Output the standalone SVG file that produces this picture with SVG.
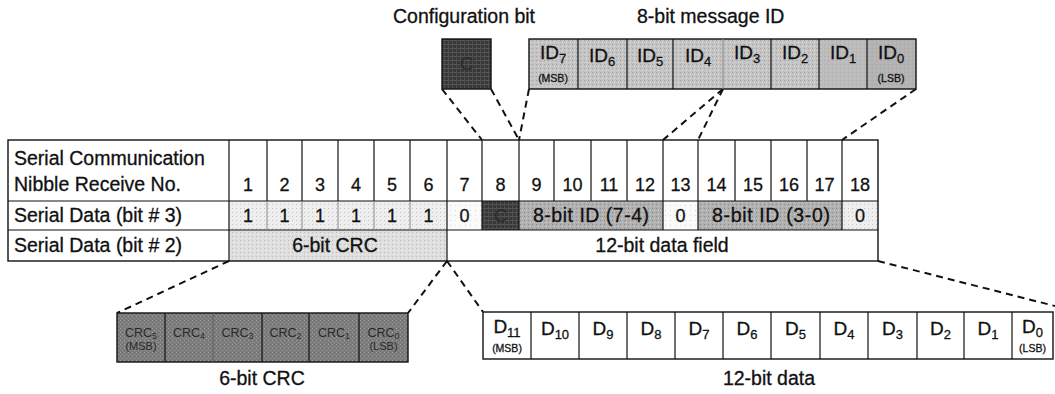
<svg xmlns="http://www.w3.org/2000/svg" width="1055" height="394" viewBox="0 0 1055 394">
<style>
text{font-family:"Liberation Sans",Arial,Helvetica,sans-serif;fill:#111;stroke:#111;stroke-width:0.3}
.big{font-size:19.5px}
.num{font-size:18px;text-anchor:middle}
.mid{text-anchor:middle}
.id{font-size:19px;text-anchor:middle}
.sub{font-size:13px}
.tiny{font-size:10.5px;text-anchor:middle}
.crc{font-size:12.5px;text-anchor:middle;fill:#2a2a2a;stroke:none}
.crcs{font-size:9px}
.dash{stroke:#111;stroke-width:2;stroke-dasharray:7 5;fill:none}
.bd{stroke:#111;stroke-width:1.4;fill:none}
.thin{stroke:#111;stroke-width:1.2}
.faint{stroke:#8a8a8a;stroke-width:1}
.hid{fill:#2b2b2b;stroke:none}
</style>
<defs>
<pattern id="pDark" width="4" height="4" patternUnits="userSpaceOnUse"><rect width="4" height="4" fill="#383838"/><rect width="4" height="1" fill="#555"/><rect width="1" height="4" fill="#4e4e4e"/></pattern>
<pattern id="pCrc" width="4" height="4" patternUnits="userSpaceOnUse"><rect width="4" height="4" fill="#7c7c7c"/><rect width="1" height="1" fill="#a0a0a0"/><rect x="2" y="2" width="1" height="1" fill="#959595"/><rect x="2" y="0" width="1" height="1" fill="#6a6a6a"/></pattern>
<pattern id="pMid" width="4" height="4" patternUnits="userSpaceOnUse"><rect width="4" height="4" fill="#b0b0b0"/><rect width="1" height="1" fill="#8c8c8c"/><rect x="2" y="2" width="1" height="1" fill="#d2d2d2"/></pattern>
<pattern id="pId" width="4" height="4" patternUnits="userSpaceOnUse"><rect width="4" height="4" fill="#c4c4c4"/><rect width="1" height="1" fill="#a2a2a2"/><rect x="2" y="2" width="1" height="1" fill="#dedede"/></pattern>
<pattern id="pLight" width="4" height="4" patternUnits="userSpaceOnUse"><rect width="4" height="4" fill="#eeeeee"/><rect width="1" height="1" fill="#c6c6c6"/></pattern>
<pattern id="pLight2" width="4" height="4" patternUnits="userSpaceOnUse"><rect width="4" height="4" fill="#dedede"/><rect width="1" height="1" fill="#bcbcbc"/><rect x="2" y="2" width="1" height="1" fill="#f2f2f2"/></pattern>
<pattern id="pFaint" width="5" height="5" patternUnits="userSpaceOnUse"><rect width="5" height="5" fill="#fafafa"/><rect width="1" height="1" fill="#dadada"/></pattern>
</defs>
<rect width="1055" height="394" fill="#fff"/>

<g id="connectors">
<line class="dash" x1="442" y1="89" x2="482" y2="140"/>
<line class="dash" x1="491" y1="89" x2="519" y2="140"/>
<line class="dash" x1="529" y1="89" x2="519" y2="140"/>
<line class="dash" x1="723" y1="89" x2="663" y2="140"/>
<line class="dash" x1="723" y1="89" x2="698" y2="140"/>
<line class="dash" x1="916" y1="89" x2="842" y2="140"/>
<line class="dash" x1="229" y1="261" x2="117" y2="313"/>
<line class="dash" x1="447" y1="261" x2="408" y2="313"/>
<line class="dash" x1="447" y1="261" x2="483" y2="312"/>
<line class="dash" x1="878" y1="261" x2="1055" y2="306"/>
</g>

<g id="config-bit">
<text class="big" x="393" y="23">Configuration bit</text>
<rect x="442" y="39" width="49" height="50" fill="url(#pDark)" stroke="#111" stroke-width="1.4"/>
<text class="id hid" x="466.5" y="70">C</text>
</g>

<g id="message-id">
<text class="big" x="637" y="23">8-bit message ID</text>
<rect x="529" y="39" width="387" height="50" fill="url(#pId)"/>
<rect x="819" y="39" width="48" height="50" fill="#b2b2b2" opacity="0.5"/>
<rect x="867" y="39" width="49" height="50" fill="#a8a8a8" opacity="0.6"/>
<rect x="529" y="39" width="387" height="50" class="bd"/>
<line class="thin" x1="578" y1="39" x2="578" y2="89"/>
<line class="thin" x1="627" y1="39" x2="627" y2="89"/>
<line class="thin" x1="673" y1="39" x2="673" y2="89"/>
<line class="faint" x1="723" y1="39" x2="723" y2="89"/>
<line class="thin" x1="771" y1="39" x2="771" y2="89"/>
<line class="thin" x1="819" y1="39" x2="819" y2="89"/>
<line class="thin" x1="867" y1="39" x2="867" y2="89"/>
<text class="id" x="553" y="59">ID<tspan class="sub" dy="4">7</tspan></text>
<text class="tiny" x="553" y="82">(MSB)</text>
<text class="id" x="602" y="62">ID<tspan class="sub" dy="4">6</tspan></text>
<text class="id" x="650" y="62">ID<tspan class="sub" dy="4">5</tspan></text>
<text class="id" x="698" y="62">ID<tspan class="sub" dy="4">4</tspan></text>
<text class="id" x="747" y="59">ID<tspan class="sub" dy="4">3</tspan></text>
<text class="id" x="795" y="59">ID<tspan class="sub" dy="4">2</tspan></text>
<text class="id" x="843" y="59">ID<tspan class="sub" dy="4">1</tspan></text>
<text class="id" x="891" y="59">ID<tspan class="sub" dy="4">0</tspan></text>
<text class="tiny" x="891" y="82">(LSB)</text>
</g>

<g id="table">
<rect x="229" y="201" width="218" height="29" fill="url(#pLight)"/>
<rect x="447" y="201" width="35" height="29" fill="url(#pFaint)"/>
<rect x="482" y="201" width="37" height="29" fill="url(#pDark)"/>
<rect x="519" y="201" width="144" height="29" fill="url(#pMid)"/>
<rect x="663" y="201" width="35" height="29" fill="url(#pFaint)"/>
<rect x="698" y="201" width="144" height="29" fill="url(#pMid)"/>
<rect x="842" y="201" width="36" height="29" fill="url(#pLight)"/>
<rect x="229" y="230" width="218" height="31" fill="url(#pLight2)"/>
<rect x="8" y="140" width="870" height="121" class="bd"/>
<line class="thin" x1="8" y1="201" x2="878" y2="201"/>
<line class="thin" x1="8" y1="230" x2="878" y2="230"/>
<line class="thin" x1="229" y1="140" x2="229" y2="261"/>
<line class="thin" x1="447" y1="140" x2="447" y2="261"/>
<g class="thin">
<line x1="267" y1="140" x2="267" y2="201"/>
<line x1="302" y1="140" x2="302" y2="201"/>
<line x1="338" y1="140" x2="338" y2="201"/>
<line x1="374" y1="140" x2="374" y2="201"/>
<line x1="410" y1="140" x2="410" y2="201"/>
<line x1="482" y1="140" x2="482" y2="230"/>
<line x1="519" y1="140" x2="519" y2="230"/>
<line x1="554" y1="140" x2="554" y2="201"/>
<line x1="591" y1="140" x2="591" y2="201"/>
<line x1="627" y1="140" x2="627" y2="201"/>
<line x1="663" y1="140" x2="663" y2="230"/>
<line x1="698" y1="140" x2="698" y2="230"/>
<line x1="735" y1="140" x2="735" y2="201"/>
<line x1="771" y1="140" x2="771" y2="201"/>
<line x1="807" y1="140" x2="807" y2="201"/>
<line x1="842" y1="140" x2="842" y2="230"/>
</g>
<g class="faint">
<line x1="267" y1="201" x2="267" y2="230"/>
<line x1="302" y1="201" x2="302" y2="230"/>
<line x1="338" y1="201" x2="338" y2="230"/>
<line x1="374" y1="201" x2="374" y2="230"/>
<line x1="410" y1="201" x2="410" y2="230"/>
</g>
<text class="big" x="14" y="165">Serial Communication</text>
<text class="big" x="14" y="191">Nibble Receive No.</text>
<text class="big" x="14" y="222">Serial Data (bit # 3)</text>
<text class="big" x="14" y="252">Serial Data (bit # 2)</text>
<g class="num">
<text x="248" y="191">1</text>
<text x="284.5" y="191">2</text>
<text x="320" y="191">3</text>
<text x="356" y="191">4</text>
<text x="392" y="191">5</text>
<text x="428.5" y="191">6</text>
<text x="464.5" y="191">7</text>
<text x="500.5" y="191">8</text>
<text x="536.5" y="191">9</text>
<text x="572.5" y="191">10</text>
<text x="609" y="191">11</text>
<text x="645" y="191">12</text>
<text x="680.5" y="191">13</text>
<text x="716.5" y="191">14</text>
<text x="753" y="191">15</text>
<text x="789" y="191">16</text>
<text x="824.5" y="191">17</text>
<text x="860" y="191">18</text>
<text x="248" y="222">1</text>
<text x="284.5" y="222">1</text>
<text x="320" y="222">1</text>
<text x="356" y="222">1</text>
<text x="392" y="222">1</text>
<text x="428.5" y="222">1</text>
<text x="464.5" y="222">0</text>
<text class="hid" x="500.5" y="222">C</text>
<text x="680.5" y="222">0</text>
<text x="860" y="222">0</text>
</g>
<text class="big mid" x="591" y="222" textLength="116" lengthAdjust="spacing">8-bit ID (7-4)</text>
<text class="big mid" x="771" y="222" textLength="118" lengthAdjust="spacing">8-bit ID (3-0)</text>
<text class="big mid" x="335" y="252">6-bit CRC</text>
<text class="big mid" x="662" y="252">12-bit data field</text>
</g>

<g id="crc-box">
<rect x="117" y="313" width="291" height="49" fill="url(#pCrc)"/>
<rect x="117" y="313" width="291" height="49" class="bd"/>
<line class="thin" x1="165" y1="313" x2="165" y2="362"/>
<line x1="213" y1="313" x2="213" y2="362" stroke="#5a5a5a" stroke-width="1"/>
<line class="thin" x1="262" y1="313" x2="262" y2="362"/>
<line class="thin" x1="309" y1="313" x2="309" y2="362"/>
<line class="thin" x1="359" y1="313" x2="359" y2="362"/>
<text class="crc" x="141" y="337">CRC<tspan class="crcs" dy="2">5</tspan></text>
<text class="crc" x="141" y="350" style="font-size:11px">(MSB)</text>
<text class="crc" x="189" y="337">CRC<tspan class="crcs" dy="2">4</tspan></text>
<text class="crc" x="237.5" y="337">CRC<tspan class="crcs" dy="2">3</tspan></text>
<text class="crc" x="285.5" y="337">CRC<tspan class="crcs" dy="2">2</tspan></text>
<text class="crc" x="334" y="337">CRC<tspan class="crcs" dy="2">1</tspan></text>
<text class="crc" x="383.5" y="337">CRC<tspan class="crcs" dy="2">0</tspan></text>
<text class="crc" x="383.5" y="350" style="font-size:11px">(LSB)</text>
<text class="big mid" x="262" y="385">6-bit CRC</text>
</g>

<g id="data-box">
<rect x="483" y="312" width="570" height="47" fill="#fff" class="bd"/>
<g class="thin">
<line x1="531" y1="312" x2="531" y2="359"/>
<line x1="579" y1="312" x2="579" y2="359"/>
<line x1="627" y1="312" x2="627" y2="359"/>
<line x1="675" y1="312" x2="675" y2="359"/>
<line x1="723" y1="312" x2="723" y2="359"/>
<line x1="771" y1="312" x2="771" y2="359"/>
<line x1="820" y1="312" x2="820" y2="359"/>
<line x1="868" y1="312" x2="868" y2="359"/>
<line x1="917" y1="312" x2="917" y2="359"/>
<line x1="964" y1="312" x2="964" y2="359"/>
<line x1="1012" y1="312" x2="1012" y2="359"/>
</g>
<text class="id" x="507" y="333">D<tspan class="sub" dy="4">11</tspan></text>
<text class="tiny" x="507" y="352">(MSB)</text>
<text class="id" x="555" y="335">D<tspan class="sub" dy="4">10</tspan></text>
<text class="id" x="603" y="335">D<tspan class="sub" dy="4">9</tspan></text>
<text class="id" x="651" y="335">D<tspan class="sub" dy="4">8</tspan></text>
<text class="id" x="699" y="335">D<tspan class="sub" dy="4">7</tspan></text>
<text class="id" x="747" y="335">D<tspan class="sub" dy="4">6</tspan></text>
<text class="id" x="795.5" y="335">D<tspan class="sub" dy="4">5</tspan></text>
<text class="id" x="844" y="335">D<tspan class="sub" dy="4">4</tspan></text>
<text class="id" x="892.5" y="335">D<tspan class="sub" dy="4">3</tspan></text>
<text class="id" x="940.5" y="335">D<tspan class="sub" dy="4">2</tspan></text>
<text class="id" x="988" y="335">D<tspan class="sub" dy="4">1</tspan></text>
<text class="id" x="1032.5" y="333">D<tspan class="sub" dy="4">0</tspan></text>
<text class="tiny" x="1032.5" y="352">(LSB)</text>
<text class="big mid" x="769" y="385">12-bit data</text>
</g>
</svg>
